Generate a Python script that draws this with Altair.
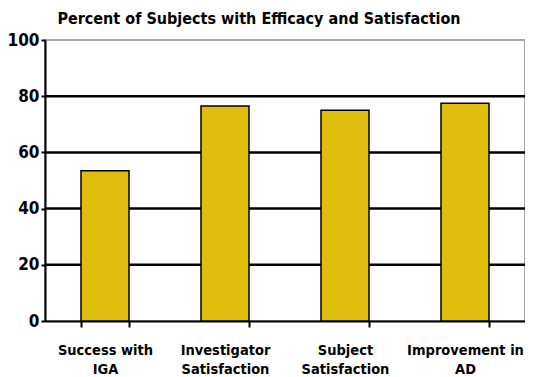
import altair as alt
import pandas as pd

categories = ["Success with\nIGA", "Investigator\nSatisfaction", "Subject\nSatisfaction", "Improvement in\nAD"]
values = [53.5, 76.5, 75.0, 77.5]
grid_values = [20, 40, 60, 80]

FONT = "DejaVu Sans Condensed"

df = pd.DataFrame({"category": categories, "value": values})
gdf = pd.DataFrame({"g": grid_values})

x_enc = alt.X("category:N", sort=categories, title=None,
              scale=alt.Scale(paddingInner=0.6, paddingOuter=0.3),
              axis=alt.Axis(labelAngle=0, labelExpr="split(datum.label, '\\n')",
                            labelFont=FONT, labelFontWeight="bold", labelFontSize=14.5,
                            labelColor="black", labelPadding=16, labelLineHeight=19,
                            domainColor="black", domainWidth=2, tickColor="black",
                            tickWidth=2, tickSize=6, tickBand="extent"))

grid = alt.Chart(gdf).mark_rule(color="black", strokeWidth=2.5).encode(
    y=alt.Y("g:Q", scale=alt.Scale(domain=[0, 100]))
)

bars = alt.Chart(df).mark_bar(color="#E0BC0C", stroke="black", strokeWidth=1.5).encode(
    x=x_enc,
    y=alt.Y("value:Q", title=None, scale=alt.Scale(domain=[0, 100]),
            axis=alt.Axis(values=[0, 20, 40, 60, 80, 100], grid=False,
                          labelFont=FONT, labelFontWeight="bold", labelFontSize=17,
                          labelColor="black", labelPadding=2,
                          domainColor="black", domainWidth=2, tickColor="black",
                          tickWidth=2, tickSize=4))
)

chart = alt.layer(grid, bars).properties(
    width=480, height=281,
    autosize=alt.AutoSizeParams(type="none"),
    padding={"left": 37, "right": 0, "top": 32, "bottom": 60},
    title=alt.TitleParams("Percent of Subjects with Efficacy and Satisfaction",
                          font=FONT, fontSize=16, fontWeight="bold", color="black",
                          anchor="middle", offset=4, dx=-26, dy=0),
).configure_view(stroke="#A0A8A8", strokeWidth=2)

chart.save("out.html", embed_options={"renderer": "svg", "actions": False})
